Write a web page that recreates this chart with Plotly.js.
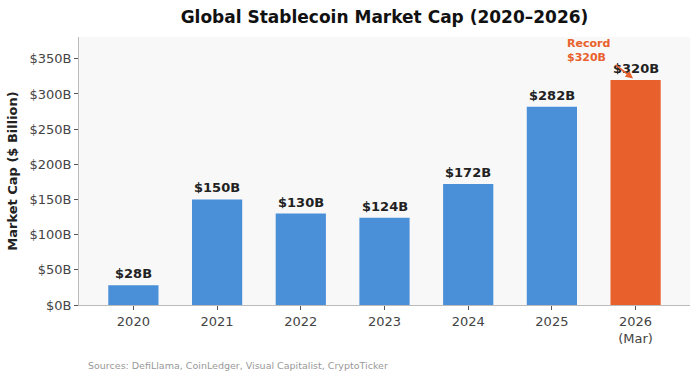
<!DOCTYPE html>
<html>
<head>
<meta charset="utf-8">
<script src="https://cdn.plot.ly/plotly-3.0.1.min.js"></script>
<style>html,body{margin:0;padding:0;background:#fff;}#chart{width:700px;height:380px;}</style>
</head>
<body>
<div id="chart"></div>
<script>
const categories = ["2020", "2021", "2022", "2023", "2024", "2025", "2026<br>(Mar)"];
const values = [28, 150, 130, 124, 172, 282, 320];
const labels = ["$28B", "$150B", "$130B", "$124B", "$172B", "$282B", "$320B"];
const colors = ["#4A90D9", "#4A90D9", "#4A90D9", "#4A90D9", "#4A90D9", "#4A90D9", "#E8612C"];
const yTickVals = [0, 50, 100, 150, 200, 250, 300, 350];
const yTickText = ["$0B", "$50B", "$100B", "$150B", "$200B", "$250B", "$300B", "$350B"];

const xIdx = categories.map((c, i) => i);

const trace = {
  type: "bar",
  x: xIdx,
  y: values,
  width: 0.6,
  marker: {color: colors, line: {width: 0}},
  hoverinfo: "skip"
};

const annotations = values.map((v, i) => ({
  x: i, y: v, xref: "x", yref: "y",
  text: "<b>" + labels[i] + "</b>",
  showarrow: false, yanchor: "bottom", yshift: 2,
  font: {family: "DejaVu Sans", size: 13, color: "#222"}
}));

// annotation text
annotations.push({
  x: 5.44, y: 362, xref: "x", yref: "y",
  xanchor: "center", yanchor: "middle",
  text: "<b>Record<br>$320B</b>",
  align: "left",
  showarrow: false,
  font: {family: "DejaVu Sans", size: 11, color: "#E8612C"}
});
// annotation arrow
annotations.push({
  x: 5.97, y: 322, xref: "x", yref: "y",
  text: " ",
  font: {size: 1},
  borderpad: 0,
  showarrow: true, arrowhead: 2, arrowsize: 1, arrowwidth: 1.5,
  arrowcolor: "#E8612C",
  ax: -18, ay: -14, standoff: 0
});

annotations.push({
  x: 0, y: 0, xref: "paper", yref: "paper",
  xanchor: "left", yanchor: "middle",
  xshift: 7, yshift: -60,
  text: "Sources: DefiLlama, CoinLedger, Visual Capitalist, CryptoTicker",
  showarrow: false,
  font: {family: "DejaVu Sans", size: 9.5, color: "#999"}
});

const layout = {
  width: 700, height: 380,
  margin: {l: 79, r: 10, t: 37, b: 75},
  paper_bgcolor: "#ffffff",
  plot_bgcolor: "#f8f8f8",
  title: {
    text: "<b>Global Stablecoin Market Cap (2020–2026)</b>",
    font: {family: "DejaVu Sans", size: 17, color: "#111"},
    xref: "paper", x: 0.5, xanchor: "center", y: 0.955, yanchor: "middle"
  },
  xaxis: {
    range: [-0.65, 6.65],
    tickvals: xIdx, ticktext: categories,
    ticks: "outside", ticklen: 4, tickcolor: "#555",
    showline: true, linecolor: "#bbb", linewidth: 1,
    showgrid: false, zeroline: false,
    tickfont: {family: "DejaVu Sans", size: 13, color: "#444"}
  },
  yaxis: {
    range: [0, 381],
    tickvals: yTickVals, ticktext: yTickText,
    ticks: "outside", ticklen: 4, tickcolor: "#555",
    showline: true, linecolor: "#bbb", linewidth: 1,
    showgrid: false, zeroline: false,
    tickfont: {family: "DejaVu Sans", size: 13, color: "#444"},
    title: {text: "<b>Market Cap ($ Billion)</b>", font: {family: "DejaVu Sans", size: 13, color: "#222"}, standoff: 8}
  },
  annotations: annotations,
  showlegend: false,
  bargap: 0.4
};

Plotly.newPlot("chart", [trace], layout, {displayModeBar: false, staticPlot: true});
</script>
</body>
</html>
